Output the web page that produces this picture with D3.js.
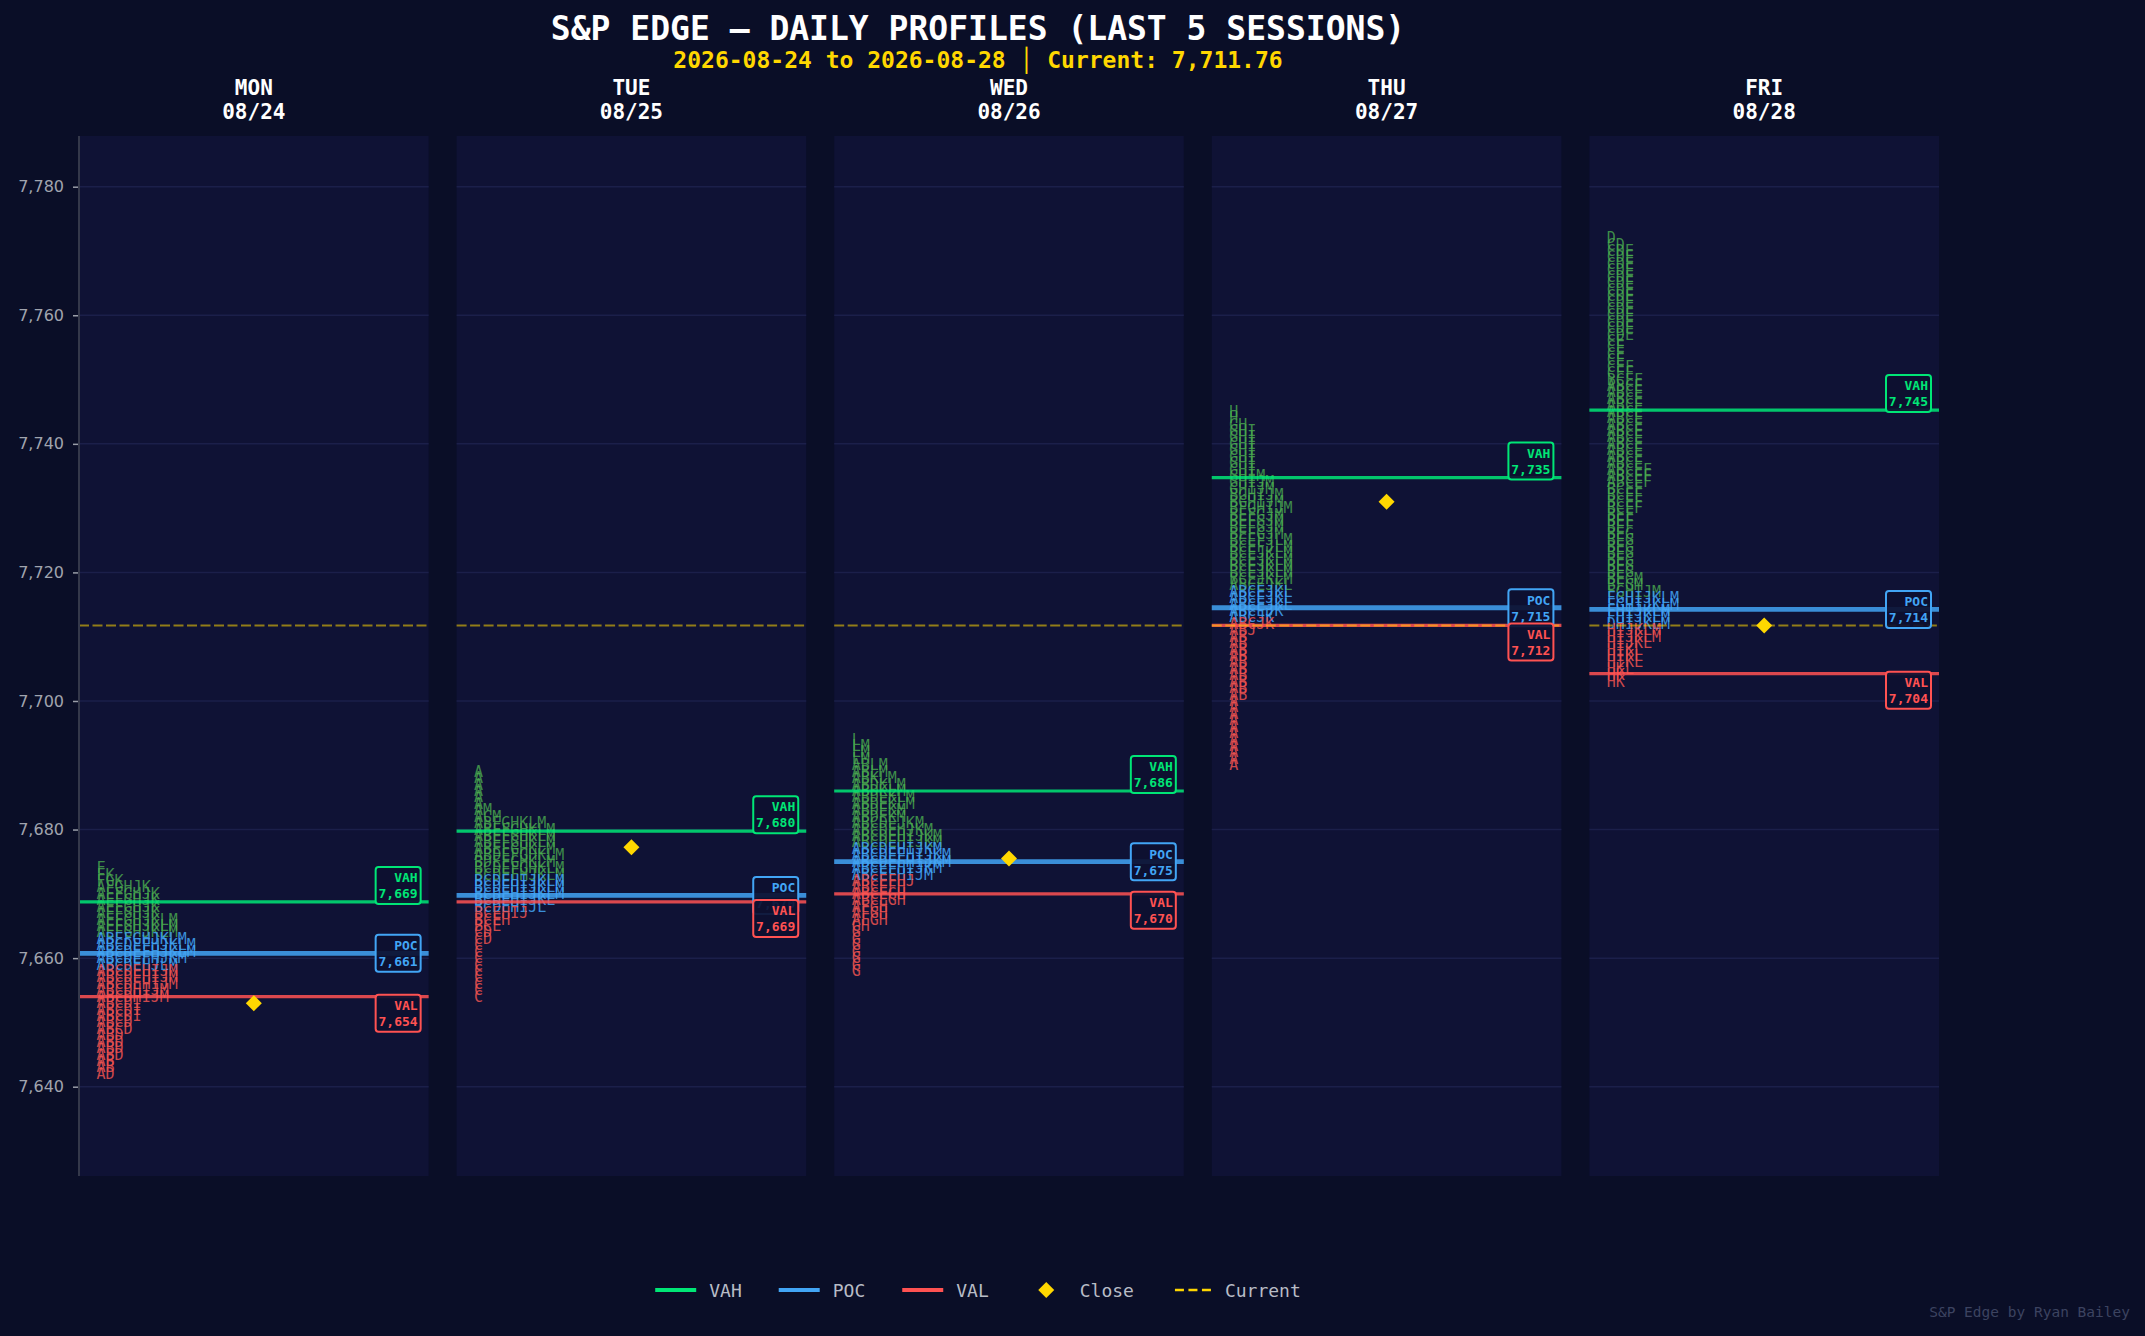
<!DOCTYPE html>
<html>
<head>
<meta charset="utf-8">
<script src="https://cdn.jsdelivr.net/npm/d3@7"></script>
<style>
  body { margin: 0; background: #0a0e27; }
  svg { display: block; }
</style>
</head>
<body>
<svg id="chart"></svg>
<script>
var days = ["MON", "TUE", "WED", "THU", "FRI"];
var dates = ["08/24", "08/25", "08/26", "08/27", "08/28"];
var vah = [7668.75, 7679.75, 7686, 7734.75, 7745.25];
var poc = [7660.75, 7669.75, 7675, 7714.5, 7714.25];
var val = [7654, 7668.75, 7670, 7711.75, 7704.25];
var closes = [7653, 7677.25, 7675.5, 7731, 7711.76];
var current = 7711.76;
var yTicks = [7640, 7660, 7680, 7700, 7720, 7740, 7760, 7780];

// highest price row of each day's profile, rows go down 1 point each
var profileTop = [7674, 7689, 7694, 7745, 7772];

var monRows = ["F", "FK", "FGK", "AFGHJK", "AEFGHJK", "AEFGHJK", "AEFGHJK", "AEFGHJK",
  "AEFGHJKLM", "AEFGHJKLM", "AEFGHJKLM", "ABEFGHJKLM", "ABCDEFHJKLM", "ABCDEFHJKLM",
  "ABCDEFHJKM", "ABCDEHJLM", "ABCDEHIJM", "ABCDEHIJM", "ABCDEHIJM", "ABCDHIJM", "ABCDHIJM",
  "ABCDI", "ABCDI", "ABCDI", "ABCD", "ABCD", "ABD", "ABD", "ABD", "ABD", "AB", "AB", "AD"];

var tueRows = ["A", "A", "A", "A", "A", "A", "AM", "ACM", "ABFGHKLM", "ABEFGHKLM",
  "ABEFGHKLM", "ABEFGHKLM", "ABEFGHKLM", "ABDEFGHKLM", "BDEFGHKLM", "BCDEFGHKLM",
  "BCDEFHJKLM", "BCDEHIJKLM", "BCDEHIJKLM", "BCDEHIJKLM", "BCDEHIJKL", "BCDEHIJL",
  "BCEHIJ", "BCEH", "BCE", "CD", "CD", "C", "C", "C", "C", "C", "C", "C", "C", "C"];

var wedRows = ["L", "LM", "LM", "LM", "ABLM", "ABLM", "ABKLM", "ABDKLM", "ABDKLM",
  "ABDEKLM", "ABDEKLM", "ABDEKM", "ABDEKM", "ABCDEJKM", "ABCDEHJKM", "ABCDEHIJKM",
  "ABCDEHIJKM", "ABCDEHIJKM", "ABCDEFHIJKM", "ABCDEFHIJKM", "ABCEFHIJKM", "ABCEFHIJM",
  "ABCEFHJ", "ABCEFH", "ABCEGH", "ABCEGH", "AFGH", "AFGH", "AFGH", "GH",
  "G", "G", "G", "G", "G", "G", "G"];

var thuRows = ["H", "H", "GH", "GHI", "GHI", "GHI", "GHI", "GHI", "GHI", "GHI",
  "GHIM", "GHIJM", "GHIJM", "BGHIJM", "BGHIJM", "BFGHIJM", "BEFGJM", "BEFGJM", "BEFGJM",
  "BEFGJM", "BCEFJLM", "BCEFJLM", "BCEJKLM", "BCEJKLM", "BCEJKLM", "BCEJKLM", "BCEJKLM",
  "ABCEJKL", "ABCEJKL", "ABCEJKL", "ABCEJKL", "ABCEJK", "ABCJK", "ABCJK", "ABJ",
  "AB", "AB", "AB", "AB", "AB", "AB", "AB", "AB", "AB", "AB",
  "A", "A", "A", "A", "A", "A", "A", "A", "A", "A", "A"];

var friRows = ["D", "CD", "CDE", "CDE", "CDE", "CDE", "CDE", "CDE", "CDE", "CDE", "CDE",
  "CDE", "CDE", "CDE", "CDE", "CDE", "CE", "CE", "CE", "CE", "CEF", "CEF", "BCEF",
  "ABCE", "ABCE", "ABCE", "ABCE", "ABCE", "ABCE", "ABCE", "ABCE", "ABCE", "ABCE", "ABCE",
  "ABCE", "ABCE", "ABCEF", "ABCEF", "ABCEF", "BCEF", "BCEF", "BCEF", "BCEF", "BEF", "BEF",
  "BEF", "BEG", "BEG", "BEG", "BEG", "BEG", "BEG", "BEG", "BEGM", "BFGM", "FGHIJM",
  "FGHIJKLM", "FGHIJKLM", "FHIJKLM", "FHIJKLM", "DHIJKLM", "HIJKLM", "HIJKLM", "HIJKL",
  "HIKL", "HIKL", "HIKL", "HKL", "HK", "HK"];

var profiles = [monRows, tueRows, wedRows, thuRows, friRows];

var W = 2145, H = 1336;
var mono = "'DejaVu Sans Mono', monospace";
var col = { vah: "#00e676", poc: "#42a5f5", val: "#ff5252", gold: "#ffd600" };
var panelTop = 136, panelBottom = 1176;

var svg = d3.select("#chart").attr("width", W).attr("height", H);
svg.append("rect").attr("width", W).attr("height", H).attr("fill", "#0a0e27");

var x = d3.scaleBand().domain(days).range([79, 1939]).paddingInner(0.074);
var y = d3.scaleLinear().domain([7640, 7780]).range([1086.7, 186.7]);
var fmt = d3.format(",.0f");

// titles
svg.append("text").attr("x", 978).attr("y", 40).attr("text-anchor", "middle")
  .attr("font-family", mono).attr("font-weight", "bold").attr("font-size", 33)
  .attr("fill", "#ffffff").text("S&P EDGE \u2014 DAILY PROFILES (LAST 5 SESSIONS)");
svg.append("text").attr("x", 978).attr("y", 68).attr("text-anchor", "middle")
  .attr("font-family", mono).attr("font-weight", "bold").attr("font-size", 23)
  .attr("fill", "#ffd700").text("2026-08-24 to 2026-08-28 \u2502 Current: " + d3.format(",.2f")(current));

var panels = svg.selectAll("g.panel").data(days).enter().append("g").attr("class", "panel");

panels.append("rect")
  .attr("x", function (d) { return x(d); })
  .attr("y", panelTop)
  .attr("width", x.bandwidth())
  .attr("height", panelBottom - panelTop)
  .attr("fill", "#0f1235");

panels.each(function (d, i) {
  var g = d3.select(this);
  var x0 = x(d), x1 = x(d) + x.bandwidth(), cx = x0 + x.bandwidth() / 2;

  g.append("text").attr("x", cx).attr("y", 95).attr("text-anchor", "middle")
    .attr("font-family", mono).attr("font-weight", "bold").attr("font-size", 21)
    .attr("fill", "#ffffff").text(d);
  g.append("text").attr("x", cx).attr("y", 119).attr("text-anchor", "middle")
    .attr("font-family", mono).attr("font-weight", "bold").attr("font-size", 21)
    .attr("fill", "#ffffff").text(dates[i]);

  g.selectAll("line.grid").data(yTicks).enter().append("line")
    .attr("x1", x0).attr("x2", x1)
    .attr("y1", function (t) { return y(t); })
    .attr("y2", function (t) { return y(t); })
    .attr("stroke", "#1b1f4a").attr("stroke-width", 1.5);

  // TPO letters, coloured by distance from the POC row
  var pocRow = Math.round(poc[i]);
  g.selectAll("text.tpo").data(profiles[i]).enter().append("text")
    .attr("x", x0 + 17.5)
    .attr("y", function (s, k) { return y(profileTop[i] - k); })
    .attr("dominant-baseline", "central")
    .attr("font-family", mono).attr("font-size", 15)
    .attr("fill", function (s, k) {
      var p = profileTop[i] - k;
      if (p > pocRow + 2) return "#4caf50";
      if (p >= pocRow - 2) return "#42a5f5";
      return "#ef5350";
    })
    .attr("fill-opacity", function (s, k) {
      var p = profileTop[i] - k;
      return (p > pocRow + 2) ? 0.78 : 0.85;
    })
    .text(function (s) { return s; });

  var levels = [
    { name: "VAH", v: vah[i], c: col.vah, w: 3.2 },
    { name: "POC", v: poc[i], c: col.poc, w: 4.8 },
    { name: "VAL", v: val[i], c: col.val, w: 3.2 }
  ];
  g.selectAll("line.lvl").data(levels).enter().append("line")
    .attr("x1", x0).attr("x2", x1)
    .attr("y1", function (l) { return y(l.v); })
    .attr("y2", function (l) { return y(l.v); })
    .attr("stroke", function (l) { return l.c; })
    .attr("stroke-opacity", 0.85)
    .attr("stroke-width", function (l) { return l.w; });

  // current price, drawn inside each panel
  g.append("line").attr("x1", x0).attr("x2", x1)
    .attr("y1", y(current)).attr("y2", y(current))
    .attr("stroke", col.gold).attr("stroke-opacity", 0.55)
    .attr("stroke-width", 2).attr("stroke-dasharray", "10,3.5");
});

var diamond = d3.symbol().type(d3.symbolSquare).size(128);
svg.selectAll("path.close").data(closes).enter().append("path")
  .attr("d", diamond())
  .attr("transform", function (c, i) {
    return "translate(" + (x(days[i]) + x.bandwidth() / 2) + "," + y(c) + ") rotate(45)";
  })
  .attr("fill", "#ffd700");

// value labels
panels.each(function (d, i) {
  var g = d3.select(this);
  var bx = x(d) + x.bandwidth() - 8 - 45;
  var boxes = [
    { name: "VAH", v: vah[i], c: col.vah, top: y(vah[i]) - 35 },
    { name: "POC", v: poc[i], c: col.poc, top: y(poc[i]) - 18.5 },
    { name: "VAL", v: val[i], c: col.val, top: y(val[i]) - 2 }
  ];
  var b = g.selectAll("g.box").data(boxes).enter().append("g");
  b.append("rect")
    .attr("x", bx).attr("y", function (l) { return l.top; })
    .attr("width", 45).attr("height", 37).attr("rx", 3)
    .attr("fill", "#0d1030").attr("fill-opacity", 0.92)
    .attr("stroke", function (l) { return l.c; }).attr("stroke-width", 2);
  b.append("text")
    .attr("x", bx + 42).attr("y", function (l) { return l.top + 15.3; })
    .attr("text-anchor", "end").attr("font-family", mono).attr("font-weight", "bold")
    .attr("font-size", 13).attr("fill", function (l) { return l.c; })
    .text(function (l) { return l.name; });
  b.append("text")
    .attr("x", bx + 42).attr("y", function (l) { return l.top + 31.3; })
    .attr("text-anchor", "end").attr("font-family", mono).attr("font-weight", "bold")
    .attr("font-size", 13).attr("fill", function (l) { return l.c; })
    .text(function (l) { return fmt(l.v); });
});

// y axis
var yAxis = svg.append("g").attr("transform", "translate(79,0)")
  .call(d3.axisLeft(y).tickValues(yTicks).tickFormat(d3.format(",")).tickSize(6).tickPadding(9));
yAxis.select(".domain").remove();
yAxis.selectAll(".tick line").attr("stroke", "#9a9ea8").attr("stroke-width", 1.5);
yAxis.selectAll(".tick text").attr("fill", "#a0a4ae")
  .attr("font-family", "'DejaVu Sans', sans-serif").attr("font-size", 16);
svg.append("line").attr("x1", 79).attr("x2", 79).attr("y1", panelTop).attr("y2", panelBottom)
  .attr("stroke", "#34384a").attr("stroke-width", 2);

// legend
var legendItems = [
  { label: "VAH", type: "line", c: col.vah },
  { label: "POC", type: "line", c: col.poc },
  { label: "VAL", type: "line", c: col.val },
  { label: "Close", type: "diamond", c: "#ffd700" },
  { label: "Current", type: "dash", c: col.gold }
];
var legend = svg.append("g");
var lx = 0, ly = 1290;
legendItems.forEach(function (it) {
  var g = legend.append("g").attr("transform", "translate(" + lx + ",0)");
  if (it.type === "line") {
    g.append("line").attr("x1", 0).attr("x2", 41).attr("y1", ly).attr("y2", ly)
      .attr("stroke", it.c).attr("stroke-width", 4);
  } else if (it.type === "diamond") {
    g.append("path").attr("d", diamond())
      .attr("transform", "translate(20.5," + ly + ") rotate(45)").attr("fill", it.c);
  } else {
    g.append("line").attr("x1", 4).attr("x2", 40).attr("y1", ly).attr("y2", ly)
      .attr("stroke", it.c).attr("stroke-width", 2.5).attr("stroke-dasharray", "9,4.5");
  }
  var t = g.append("text").attr("x", 54).attr("y", ly).attr("dominant-baseline", "central")
    .attr("font-family", mono).attr("font-size", 18).attr("fill", "#b8bcc6").text(it.label);
  lx += 54 + t.node().getComputedTextLength() + 37;
});
var legendW = lx - 37;
legend.attr("transform", "translate(" + (978 - legendW / 2) + ",0)");

svg.append("text").attr("x", 2130).attr("y", 1317).attr("text-anchor", "end")
  .attr("font-family", mono).attr("font-size", 14.5).attr("fill", "#3c4360")
  .text("S&P Edge by Ryan Bailey");
</script>
</body>
</html>
